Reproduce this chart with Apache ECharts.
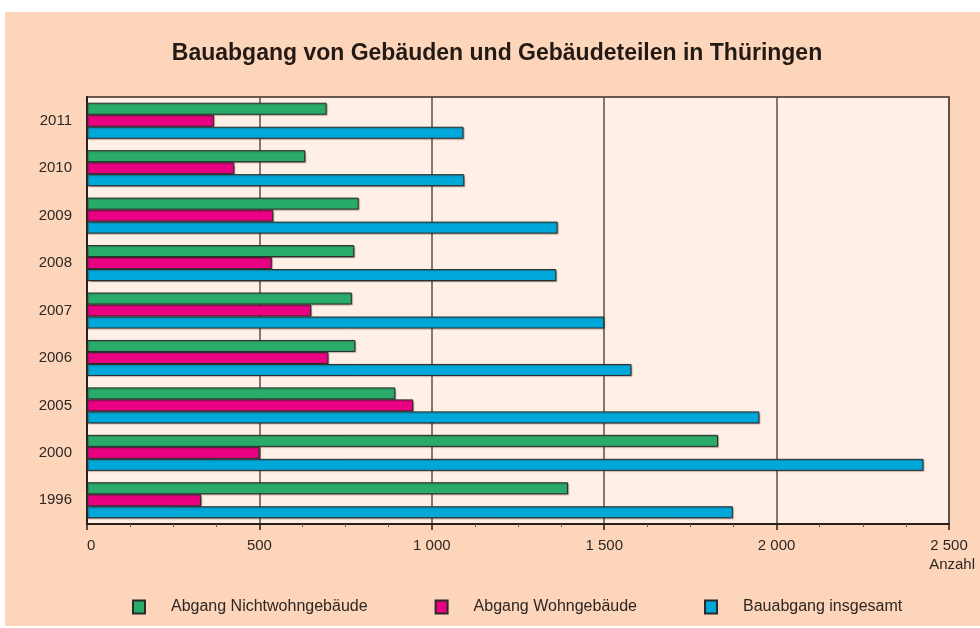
<!DOCTYPE html>
<html>
<head>
<meta charset="utf-8">
<script src="https://cdn.jsdelivr.net/npm/echarts@6/dist/echarts.min.js"></script>
<style>
    html, body {margin: 0; padding: 0; background: #ffffff;}
    #panel {position: absolute; left: 5px; top: 12px; width: 975px; height: 614px; background: #fdd5bb;}
    #chart {position: absolute; left: 0; top: 0; width: 980px; height: 628px;}
</style>
</head>
<body>
<div id="panel"></div>
<div id="chart"></div>
<script>
// Jahre von oben nach unten
let years = ['2011', '2010', '2009', '2008', '2007', '2006', '2005', '2000', '1996'];
let nichtwohn = [695, 633, 788, 775, 768, 778, 894, 1830, 1395];
let wohn = [368, 427, 540, 536, 650, 700, 946, 500, 331];
let insgesamt = [1092, 1094, 1365, 1361, 1500, 1579, 1950, 2426, 1873];
let xTicks = [0, 500, 1000, 1500, 2000, 2500];

let color = ['#29ab6a', '#ea0083', '#00a7d9'];
let names = ['Abgang Nichtwohngebäude', 'Abgang Wohngebäude', 'Bauabgang insgesamt'];
let values = [nichtwohn, wohn, insgesamt];

let barSeries = values.map((data, i) => {
    return {
        name: names[i],
        type: 'bar',
        data: data,
        barWidth: 12,
        barGap: '0%',
        itemStyle: {
            color: color[i],
            borderColor: '#2a2a2a',
            borderWidth: 1,
            shadowColor: 'rgba(60,40,30,0.35)',
            shadowOffsetX: 1,
            shadowOffsetY: 1,
            shadowBlur: 1
        }
    };
});

let option = {
    animation: false,
    textStyle: {
        fontFamily: 'Liberation Sans, Arial, sans-serif'
    },
    title: {
        text: 'Bauabgang von Gebäuden und Gebäudeteilen in Thüringen',
        left: 492,
        top: 37,
        textAlign: 'center',
        textStyle: {
            fontSize: 23,
            fontWeight: 'bold',
            color: '#231a15'
        }
    },
    legend: {
        left: 127,
        top: 594,
        itemWidth: 12,
        itemHeight: 13,
        itemGap: 67,
        icon: 'rect',
        textStyle: {
            fontSize: 16,
            color: '#2e2622',
            padding: [0, 0, 0, 21]
        },
        data: names
    },
    grid: {
        show: true,
        left: 87,
        right: 31,
        top: 97,
        bottom: 104,
        backgroundColor: '#fef0e6',
        borderColor: '#3a2b23',
        borderWidth: 1.5
    },
    graphic: [
        {
            type: 'text',
            right: 5,
            top: 557,
            style: {
                text: 'Anzahl',
                fontSize: 15,
                fill: '#2e2622',
                fontFamily: 'Liberation Sans, Arial, sans-serif'
            }
        }
    ],
    xAxis: {
        type: 'value',
        min: xTicks[0],
        max: xTicks[xTicks.length - 1],
        interval: 500,
        axisLine: {
            show: true,
            lineStyle: {
                color: '#2a1e18',
                width: 2
            }
        },
        axisTick: {
            show: true,
            length: 6,
            lineStyle: {
                color: '#2a1e18',
                width: 1.5
            }
        },
        minorTick: {
            show: true,
            splitNumber: 4,
            length: 3,
            lineStyle: {
                color: '#6b5a52'
            }
        },
        splitLine: {
            show: true,
            lineStyle: {
                color: '#5e4e47',
                width: 1.5
            }
        },
        axisLabel: {
            fontSize: 15,
            color: '#2e2622',
            margin: 14,
            alignMinLabel: 'left',
            formatter: (v) => {
                return String(v).replace(/\B(?=(\d{3})+(?!\d))/g, ' ');
            }
        }
    },
    yAxis: {
        type: 'category',
        inverse: true,
        data: years,
        axisTick: {
            show: false
        },
        axisLine: {
            lineStyle: {
                color: '#2a1e18',
                width: 2
            }
        },
        axisLabel: {
            fontSize: 15,
            color: '#2e2622',
            margin: 15,
            padding: [0, 0, 6, 0]
        }
    },
    series: barSeries
};

let chart = echarts.init(document.getElementById('chart'));
chart.setOption(option);
</script>
</body>
</html>
